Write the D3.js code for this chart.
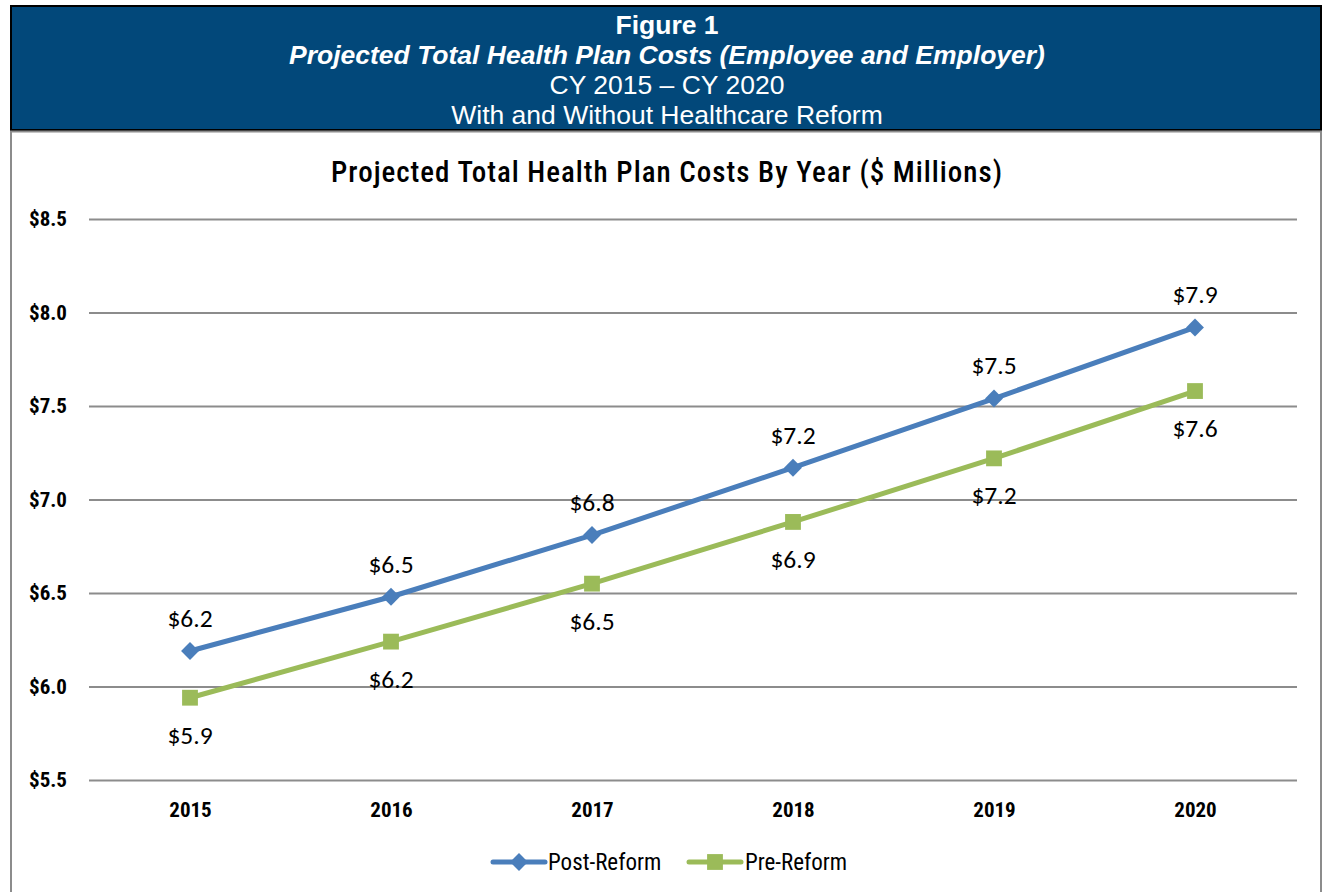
<!DOCTYPE html>
<html>
<head>
<meta charset="utf-8">
<script src="https://cdn.jsdelivr.net/npm/d3@7"></script>
<style>
  body { margin: 0; background: #fff; }
  svg { display: block; }
</style>
</head>
<body>
<svg id="chart"></svg>
<script>
// datos
const years = ['2015', '2016', '2017', '2018', '2019', '2020'];
const postReform = [6.19, 6.48, 6.81, 7.17, 7.54, 7.92];
const preReform = [5.94, 6.24, 6.55, 6.88, 7.22, 7.58];
const yTicks = [5.5, 6.0, 6.5, 7.0, 7.5, 8.0, 8.5];
const headerLines = [
    { text: 'Figure 1', weight: 'bold', style: 'normal' },
    { text: 'Projected Total Health Plan Costs (Employee and Employer)', weight: 'bold', style: 'italic' },
    { text: 'CY 2015 \u2013 CY 2020', weight: 'normal', style: 'normal' },
    { text: 'With and Without Healthcare Reform', weight: 'normal', style: 'normal' }
];

const W = 1324, H = 892;
const narrow = "'Liberation Sans Narrow', 'Arial Narrow', 'Roboto Condensed', sans-serif";
const calibri = "Carlito, Calibri, 'Open Sans', sans-serif";

const svg = d3.select('#chart').attr('width', W).attr('height', H);

/**
 * Encabezado azul
 */
svg.append('rect')
    .attr('x', 11).attr('y', 6)
    .attr('width', 1310).attr('height', 124)
    .attr('fill', '#02487a')
    .attr('stroke', '#000').attr('stroke-width', 2);

svg.append('g')
    .selectAll('text')
    .data(headerLines)
    .join('text')
    .attr('x', 667)
    .attr('y', (d, i) => 33.5 + i * 30.3)
    .attr('text-anchor', 'middle')
    .attr('fill', '#fff')
    .attr('font-family', "'Liberation Sans', Arial, sans-serif")
    .attr('font-size', 26.5)
    .attr('font-weight', d => d.weight)
    .attr('font-style', d => d.style)
    .text(d => d.text);

// marco gris del grafico
svg.append('path')
    .attr('d', `M11,${H + 2}V131.5H1321V${H + 2}`)
    .attr('fill', 'none')
    .attr('stroke', '#8c8c8c')
    .attr('stroke-width', 2);

/**
 * Escalas
 */
const x = d3.scalePoint().domain(years).range([190, 1195]);
const y = d3.scaleLinear().domain([5.5, 8.5]).range([780, 219]);

// titulo del grafico
svg.append('text')
    .attr('x', 667).attr('y', 182)
    .attr('text-anchor', 'middle')
    .attr('font-family', narrow)
    .attr('font-size', 29)
    .attr('font-weight', 500)
    .attr('letter-spacing', 1)
    .attr('fill', '#000')
    .text('Projected Total Health Plan Costs By Year ($ Millions)');

// lineas de cuadricula y eje y
const yAxis = d3.axisLeft(y)
    .tickValues(yTicks)
    .tickSize(-(1297 - 89))
    .tickPadding(22)
    .tickFormat(d => '$' + d3.format('.1f')(d));

const gy = svg.append('g')
    .attr('transform', 'translate(89,0)')
    .call(yAxis);
gy.select('.domain').remove();
gy.selectAll('.tick line').attr('stroke', '#8c8c8c').attr('stroke-width', 2);
gy.selectAll('.tick text')
    .attr('fill', '#000')
    .attr('font-family', narrow)
    .attr('font-weight', 'bold')
    .attr('font-size', 21);

// eje x
const gx = svg.append('g')
    .attr('transform', 'translate(0,780)')
    .call(d3.axisBottom(x).tickSize(0).tickPadding(22));
gx.select('.domain').remove();
gx.selectAll('.tick text')
    .attr('fill', '#000')
    .attr('font-family', narrow)
    .attr('font-weight', 'bold')
    .attr('font-size', 21);

/**
 * Series
 */
const series = [
    { name: 'Post-Reform', values: postReform, color: '#4a7ebb', marker: d3.symbolSquare, size: 160, rot: 45, label: -33 },
    { name: 'Pre-Reform', values: preReform, color: '#9bbb59', marker: d3.symbolSquare, size: 250, rot: 0, label: 37 }
];

const line = d3.line()
    .x((d, i) => x(years[i]))
    .y(d => y(d));

series.forEach(s => {
    svg.append('path')
        .datum(s.values)
        .attr('d', line)
        .attr('fill', 'none')
        .attr('stroke', s.color)
        .attr('stroke-width', 5)
        .attr('stroke-linejoin', 'round');

    svg.append('g')
        .selectAll('path')
        .data(s.values)
        .join('path')
        .attr('d', d3.symbol().type(s.marker).size(s.size))
        .attr('transform', (d, i) => `translate(${x(years[i])},${y(d)}) rotate(${s.rot})`)
        .attr('fill', s.color);

    svg.append('g')
        .selectAll('text')
        .data(s.values)
        .join('text')
        .attr('x', (d, i) => x(years[i]))
        .attr('y', d => y(d) + s.label)
        .attr('dy', '0.35em')
        .attr('text-anchor', 'middle')
        .attr('font-family', calibri)
        .attr('font-size', 25.5)
        .attr('fill', '#000')
        .text(d => '$' + d3.format('.1f')(d));
});

/**
 * Leyenda
 */
const legendPos = [{ x: 493, tx: 548 }, { x: 689, tx: 745 }];
const legend = svg.append('g')
    .selectAll('g')
    .data(series)
    .join('g')
    .attr('transform', (d, i) => `translate(${legendPos[i].x},862)`);

legend.append('line')
    .attr('x1', 0).attr('x2', 52)
    .attr('stroke', d => d.color)
    .attr('stroke-width', 5)
    .attr('stroke-linecap', 'round');

legend.append('path')
    .attr('d', d => d3.symbol().type(d.marker).size(d.size)())
    .attr('transform', d => `translate(26,0) rotate(${d.rot})`)
    .attr('fill', d => d.color);

legend.append('text')
    .attr('x', (d, i) => legendPos[i].tx - legendPos[i].x)
    .attr('dy', '0.35em')
    .attr('font-family', narrow)
    .attr('font-size', 23)
    .attr('fill', '#000')
    .text(d => d.name);
</script>
</body>
</html>
